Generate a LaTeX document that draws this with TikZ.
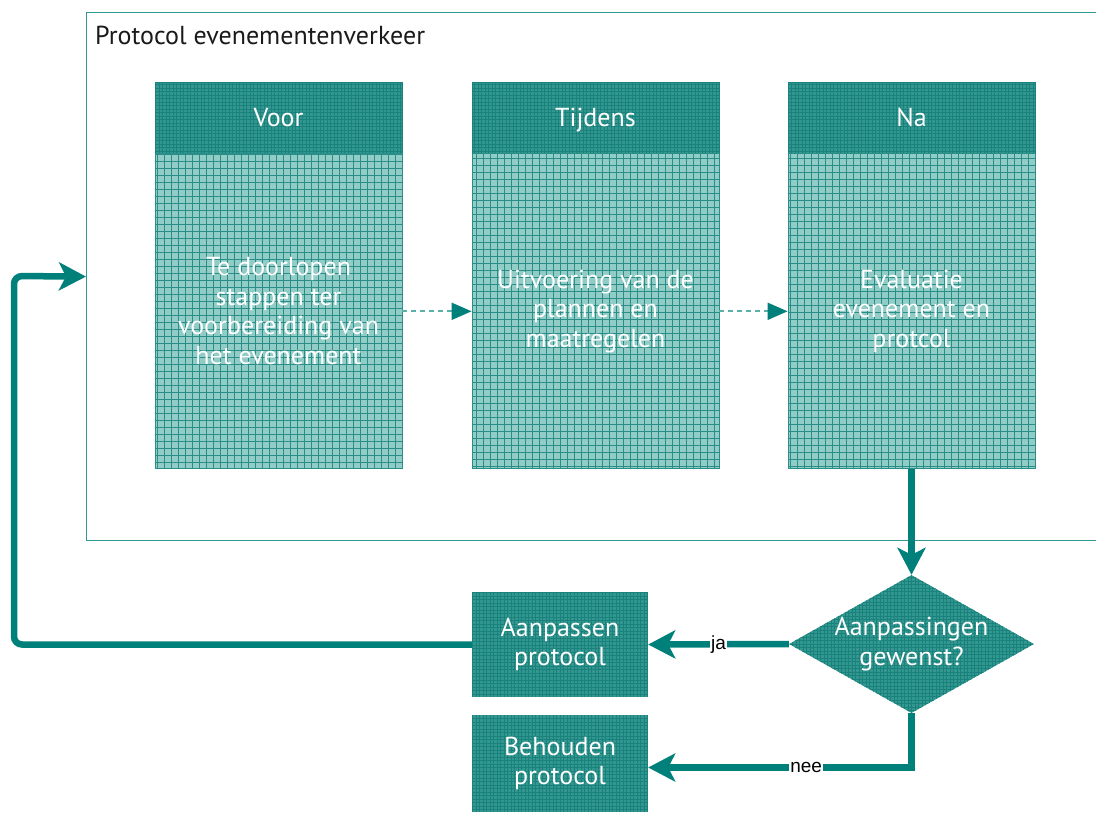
\documentclass[tikz,border=0pt]{standalone}
\usepackage{fontspec}
\setmainfont{PT Sans}
\newfontfamily\labelfont{Liberation Sans}
\usetikzlibrary{arrows.meta,shapes.geometric,calc}

\definecolor{tealdark}{HTML}{00807A}
\definecolor{headfill}{HTML}{33968F}
\definecolor{headline}{HTML}{1A827C}
\definecolor{bodyfill}{HTML}{92CCC7}
\definecolor{bodyline}{HTML}{2A8E88}
\definecolor{framecol}{HTML}{2F9A94}
\definecolor{dashcol}{HTML}{5AB0AA}
\definecolor{titlecol}{HTML}{1A1A1A}

\begin{document}
\begin{tikzpicture}[x=1pt,y=-1pt,
  finegrid/.style={fill=headfill,
    path picture={\draw[headline,line width=0.6pt,step=3.5pt]
      (path picture bounding box.south west) grid (path picture bounding box.north east);}},
  coarsegrid/.style={fill=bodyfill,
    path picture={\draw[bodyline,line width=0.8pt,step=7pt]
      (path picture bounding box.south west) grid (path picture bounding box.north east);}},
  bigfont/.style={font=\fontsize{26}{29.5}\selectfont},
  colhead/.style={rectangle, finegrid, draw=headline, line width=0.8pt, inner sep=0pt,
    minimum width=247pt, minimum height=71pt, text height=22pt, text depth=4pt,
    text=white, bigfont},
  colbody/.style={rectangle, coarsegrid, draw=bodyline, line width=0.8pt, inner sep=0pt,
    minimum width=247pt, minimum height=315pt, text=white, align=center, bigfont},
  smallbox/.style={rectangle, finegrid, inner sep=0pt, minimum width=176pt,
    text=white, align=center, bigfont},
  decision/.style={diamond, finegrid, inner sep=0pt, minimum width=245pt, minimum height=138pt},
  flow/.style={tealdark, line width=6.5pt, -{Stealth[length=27pt,width=28pt,inset=7pt]}},
  steplink/.style={dashcol, line width=1.8pt, dash pattern=on 5pt off 4pt,
    -{Triangle[length=20pt,width=17pt,color=tealdark]}},
  choice/.style={font=\labelfont\fontsize{19}{22}\selectfont, fill=white, inner sep=1pt, text=black}
]
\useasboundingbox (0,0) rectangle (1096,814);

% outer frame of the protocol
\node[draw=framecol, line width=1.2pt, anchor=north west, inner sep=0pt,
      minimum width=1040pt, minimum height=528pt] (frame) at (86,12) {};
\node[anchor=base west, inner sep=0pt, text=titlecol, bigfont] (title) at (95,44) {Protocol evenementenverkeer};

% three phases
\node[colhead] (voorh) at (278.5,117.5) {Voor};
\node[colbody, anchor=north] (voorb) at (voorh.south) {Te doorlopen\\stappen ter\\voorbereiding van\\het evenement};
\node[colhead] (tijdh) at (595.5,117.5) {Tijdens};
\node[colbody, anchor=north] (tijdb) at (tijdh.south) {Uitvoering van de\\plannen en\\maatregelen};
\node[colhead] (nah) at (911.5,117.5) {Na};
\node[colbody, anchor=north] (nab) at (nah.south) {Evaluatie\\evenement en\\protcol};

\draw[steplink] (voorb.east) -- (tijdb.west);
\draw[steplink] (tijdb.east) -- (nab.west);

% decision and outcomes
\node[decision] (dec) at (911.5,644) {};
\node[text=white, align=center, bigfont] (dectext) at (dec.center) {Aanpassingen\\gewenst?};
\node[smallbox, minimum height=105pt] (aan) at (560,644.5) {Aanpassen\\protocol};
\node[smallbox, minimum height=97pt] (beh) at (560,763.5) {Behouden\\protocol};
\coordinate (loopcorner) at (14,276);

\draw[flow] (nab.south) -- (dec.north);
\draw[flow] (dec.west) -- node[choice] {ja} (aan.east);
\draw[flow] (dec.south) |- node[choice, pos=0.7] {nee} ([yshift=-4pt]beh.east);
\draw[flow, rounded corners=8pt] (aan.west) -| (loopcorner) -- (frame.west);
\end{tikzpicture}
\end{document}
